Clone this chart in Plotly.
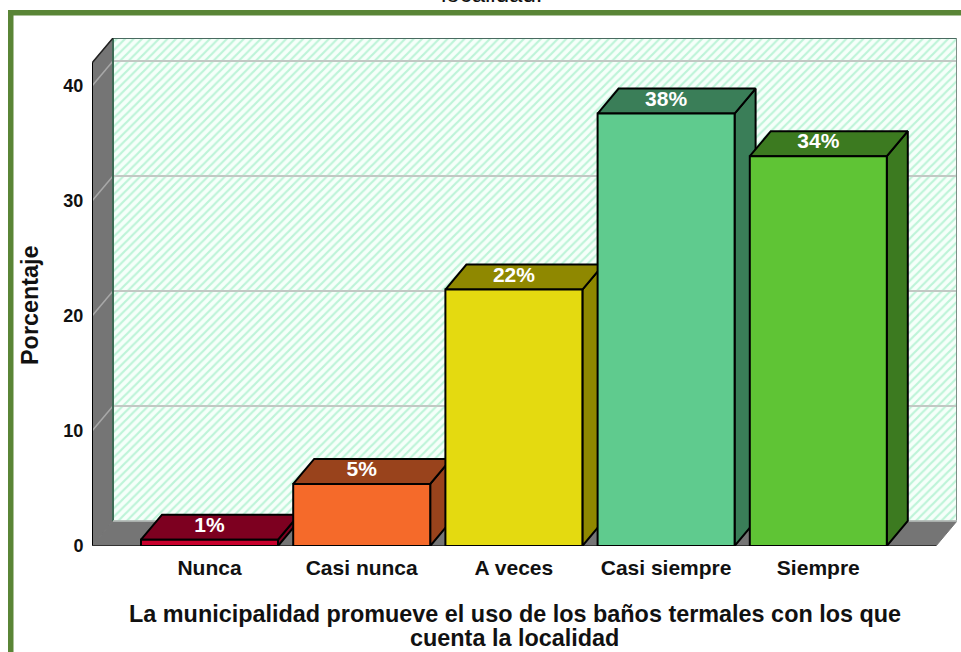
import plotly.graph_objects as go

categories = ["Nunca", "Casi nunca", "A veces", "Casi siempre", "Siempre"]
values = [0.55, 5.4, 22.3, 37.6, 33.9]
labels = ["1%", "5%", "22%", "38%", "34%"]
front_colors = ["#c8002c", "#f56a2a", "#e4da10", "#5fcb8e", "#5fc435"]
dark_colors = ["#7d0020", "#99431c", "#8f8800", "#3a7e58", "#3c7a20"]
grid_values = [10, 20, 30, 40]
y_ticks = [0, 10, 20, 30, 40]
axis_max = 42

W, H = 961, 652
L, R, T, B = 92, 957, 38, 546          # plot-area pixels
PX_PER_CAT, PX_PER_UNIT = 152.2, 11.5
X0_PX = 209.5                          # pixel of first category
xmin = (L - X0_PX) / PX_PER_CAT
xmax = (R - X0_PX) / PX_PER_CAT
ymax = (B - T) / PX_PER_UNIT
dx = 21 / PX_PER_CAT                    # 3D depth in data units
dy = 25 / PX_PER_UNIT
bw = 137 / PX_PER_CAT
x_idx = list(range(len(categories)))
x_right = xmax - dx
GRAY = "#757575"


def pxx(x):
    return (x - L) / (R - L)


def pxy(y):
    return (B - y) / (B - T)


fig = go.Figure()


def poly(xs, ys, fill, line="black", width=2):
    fig.add_trace(go.Scatter(x=xs, y=ys, mode="lines", fill="toself", fillcolor=fill,
                             line=dict(color=line, width=width), hoverinfo="skip",
                             showlegend=False, cliponaxis=False))


def seg(xs, ys, color, width):
    fig.add_trace(go.Scatter(x=xs, y=ys, mode="lines", line=dict(color=color, width=width),
                             hoverinfo="skip", showlegend=False, cliponaxis=False))


# hatched back wall
fig.add_trace(go.Bar(x=[(xmin + dx + xmax) / 2], y=[axis_max], base=[dy], width=[xmax - xmin - dx],
                     marker=dict(color="white", line=dict(width=0),
                                 pattern=dict(shape="/", fgcolor="#bdf4d8", bgcolor="#f6fffa",
                                              size=6, solidity=0.36, fillmode="replace")),
                     hoverinfo="skip", showlegend=False))

# side wall and floor
poly([xmin, xmin + dx, xmin + dx, xmin, xmin], [0, dy, axis_max + dy, axis_max, 0], GRAY, GRAY, 1)
poly([xmin, xmin + dx, xmax, x_right, xmin], [0, dy, dy, 0, 0], GRAY, GRAY, 1)

# gridlines
for g in grid_values:
    seg([xmin, xmin + dx], [g, g + dy], "#a8a8a8", 1.5)
    seg([xmin + dx, xmax], [g + dy, g + dy], "#c2c8c4", 2)

# wall outline
seg([xmin + dx, xmax], [axis_max + dy, axis_max + dy], "#4a6a60", 2)
seg([xmin + dx, xmin + dx], [dy, axis_max + dy], "#3f6a55", 2)
seg([xmax, xmax], [dy, axis_max + dy], "#7f8f88", 2)
seg([xmin + dx, xmin], [axis_max + dy, axis_max], "#222222", 1.5)
seg([xmin + dx, xmax], [dy, dy], "#bcc4c0", 1.5)

# axis lines
seg([xmin, xmin], [0, axis_max], "black", 2)
seg([xmin, x_right], [0, 0], "#333333", 2)

# bar tops and sides
for i, v in enumerate(values):
    l, r = i - bw / 2, i + bw / 2
    poly([r, r + dx, r + dx, r, r], [0, dy, v + dy, v, 0], dark_colors[i])
    poly([l, l + dx, r + dx, r, l], [v, v + dy, v + dy, v, v], dark_colors[i])

# front faces on an overlaid axis pair so they stay above every side face
fig.add_trace(go.Bar(x=x_idx, y=values, width=[bw] * len(values), xaxis="x2", yaxis="y2",
                     marker=dict(color=front_colors, line=dict(color="black", width=2)),
                     hoverinfo="skip", showlegend=False))
fig.add_trace(go.Scatter(x=x_idx, y=[v + 1.15 for v in values], text=labels, mode="text",
                         xaxis="x2", yaxis="y2", cliponaxis=False, hoverinfo="skip", showlegend=False,
                         textfont=dict(family="Liberation Sans", size=21, color="white", weight="bold")))

xtick_font = dict(family="Liberation Sans", size=21, color="#111111", weight="bold")
ytick_font = dict(family="Liberation Sans", size=18, color="#111111", weight="bold")
title_font = dict(family="Liberation Sans", size=23.4, color="#111111", weight="bold")


def note(text, x, y, font, **kw):
    return dict(text=text, xref="paper", yref="paper", x=pxx(x), y=pxy(y), xanchor="center",
                yanchor="middle", showarrow=False, font=font, **kw)


fig.update_layout(
    width=W, height=H, autosize=False,
    margin=dict(l=L, r=W - R, t=T, b=H - B),
    paper_bgcolor="white", plot_bgcolor="white", barmode="overlay", showlegend=False,
    xaxis=dict(range=[xmin, xmax], tickmode="array", tickvals=x_idx, ticktext=categories,
               showgrid=False, zeroline=False, showline=False, ticks="outside", ticklen=3,
               tickcolor="rgba(0,0,0,0)", tickfont=xtick_font, automargin=False),
    yaxis=dict(range=[0, ymax], tickmode="array", tickvals=y_ticks, showgrid=False, zeroline=False,
               showline=False, ticks="outside", ticklen=4, tickcolor="rgba(0,0,0,0)",
               tickfont=ytick_font, automargin=False),
    xaxis2=dict(range=[xmin, xmax], overlaying="x", visible=False),
    yaxis2=dict(range=[0, ymax], overlaying="y", visible=False),
    annotations=[
        note("La municipalidad promueve el uso de los baños termales con los que", 514.5, 614, title_font),
        note("cuenta la localidad", 514.5, 638, title_font),
        note("Porcentaje", 30, 305, title_font, textangle=-90),
        note("localidad.", 491, -6, dict(family="Liberation Sans", size=24, color="#111111")),
    ],
    shapes=[
        dict(type="rect", xref="paper", yref="paper", layer="below",
             x0=pxx(8), x1=pxx(13.5), y0=pxy(652), y1=pxy(10),
             fillcolor="#5a8536", line=dict(width=0)),
        dict(type="rect", xref="paper", yref="paper", layer="below",
             x0=pxx(8), x1=pxx(961), y0=pxy(15.5), y1=pxy(10),
             fillcolor="#5a8536", line=dict(width=0)),
    ],
)

fig.write_html("out.html", config=dict(displayModeBar=False),
               post_script="document.body.style.margin='0';document.body.style.overflow='hidden';")
